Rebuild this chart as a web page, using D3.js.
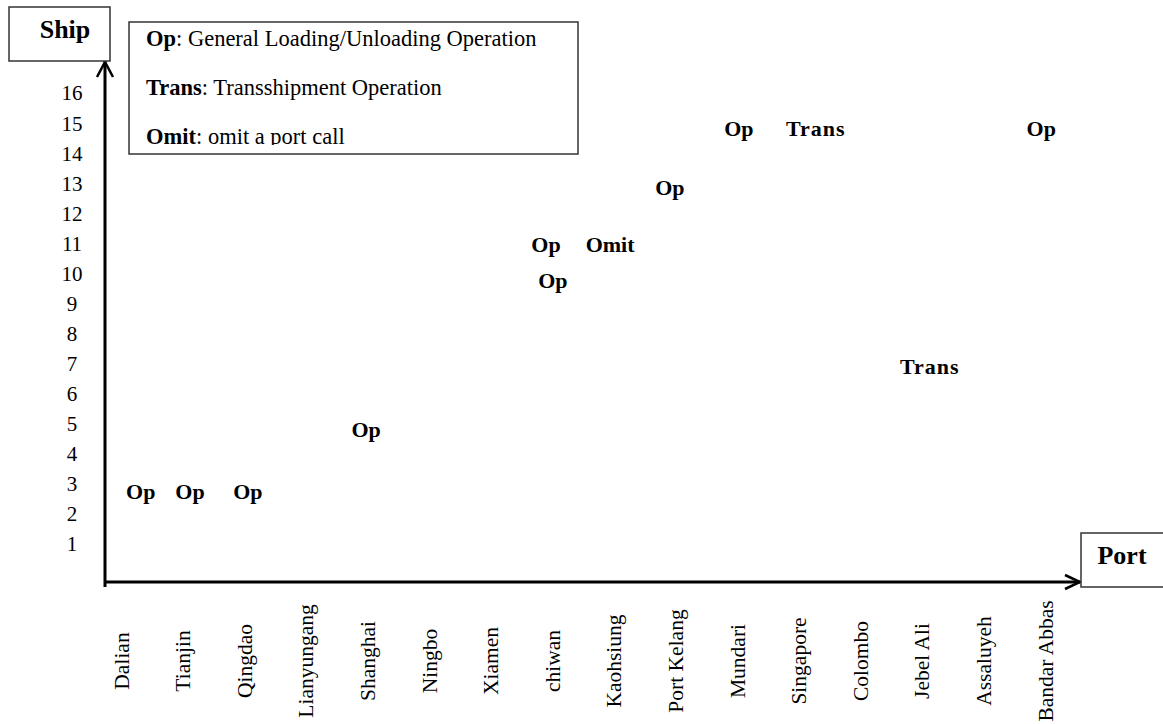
<!DOCTYPE html>
<html>
<head>
<meta charset="utf-8">
<script src="https://cdn.jsdelivr.net/npm/d3@7"></script>
<style>
  html, body { margin: 0; padding: 0; background: #fff; }
  svg { display: block; }
  text { font-family: "Liberation Serif", "Times New Roman", serif; fill: #000; }
</style>
</head>
<body>
<svg id="chart" width="1163" height="724"></svg>
<script>
// ---- data ----
const ports = ["Dalian", "Tianjin", "Qingdao", "Lianyungang", "Shanghai", "Ningbo", "Xiamen",
  "chiwan", "Kaohsiung", "Port Kelang", "Mundari", "Singapore", "Colombo", "Jebel Ali",
  "Assaluyeh", "Bandar Abbas"];
const shipTicks = [1, 2, 3, 4, 5, 6, 7, 8, 9, 10, 11, 12, 13, 14, 15, 16];
// operation marks: label, position along the port axis (port index), ship value
const markLabels = ["Op", "Op", "Op", "Op", "Op", "Op", "Omit", "Op", "Op", "Trans", "Trans", "Op"];
const markPortPos = [0.32, 1.12, 2.06, 3.98, 6.90, 7.01, 7.94, 8.91, 10.03, 11.28, 13.13, 14.94];
const markShips = [2.75, 2.75, 2.75, 4.8, 10.95, 9.75, 10.95, 12.85, 14.8, 14.8, 6.9, 14.8];
const legendKeys = ["Op", "Trans", "Omit"];
const legendDescs = [": General Loading/Unloading Operation", ": Transshipment Operation", ": omit a port call"];
const yTitle = "Ship";
const xTitle = "Port";

// ---- layout ----
const svg = d3.select("#chart");
const x = d3.scaleLinear().domain([0, ports.length - 1]).range([121, 1045]);
const y = d3.scaleLinear().domain([1, 16]).range([544, 93]);
const axisX = 105, axisY = 582;

// axes lines with open arrowheads
svg.append("line").attr("x1", axisX).attr("y1", 587).attr("x2", axisX).attr("y2", 61)
  .attr("stroke", "#000").attr("stroke-width", 3);
svg.append("path").attr("d", `M${axisX - 8},${77} L${axisX},${62} L${axisX + 8},${77}`)
  .attr("fill", "none").attr("stroke", "#000").attr("stroke-width", 2.5);
svg.append("line").attr("x1", axisX - 1).attr("y1", axisY).attr("x2", 1080).attr("y2", axisY)
  .attr("stroke", "#000").attr("stroke-width", 3);
svg.append("path").attr("d", `M${1065},${axisY - 7} L${1080},${axisY} L${1065},${axisY + 7}`)
  .attr("fill", "none").attr("stroke", "#000").attr("stroke-width", 2.5);

// y tick labels
const yAxis = svg.append("g").attr("transform", "translate(72,0)")
  .call(d3.axisLeft(y).tickValues(shipTicks).tickSize(0).tickPadding(0).tickFormat(d3.format("d")));
yAxis.select(".domain").remove();
yAxis.selectAll("text")
  .attr("x", 0).attr("dy", "0.33em")
  .attr("text-anchor", "middle")
  .style("font-family", "'Liberation Serif', serif")
  .style("font-size", "21px").attr("fill", "#000");

// x tick labels (rotated)
const xAxis = svg.append("g").attr("transform", "translate(0,661)")
  .call(d3.axisBottom(x).tickValues(d3.range(ports.length)).tickSize(0).tickPadding(0)
    .tickFormat(i => ports[i]));
xAxis.select(".domain").remove();
xAxis.selectAll("text")
  .attr("x", 0).attr("y", 0).attr("dy", "0.33em")
  .attr("text-anchor", "middle")
  .attr("transform", "rotate(-90)")
  .style("font-family", "'Liberation Serif', serif")
  .style("font-size", "21.5px").attr("fill", "#000");

// marks
const marks = markLabels.map((l, i) => ({ label: l, pos: markPortPos[i], ship: markShips[i] }));
svg.append("g").selectAll("text").data(marks).join("text")
  .attr("x", d => x(d.pos)).attr("y", d => y(d.ship)).attr("dy", "0.33em")
  .attr("text-anchor", "middle")
  .style("font-weight", "bold").style("font-size", "22px")
  .style("letter-spacing", d => d.label === "Trans" ? "1px" : "0px")
  .text(d => d.label);

// axis title boxes
svg.append("rect").attr("x", 9).attr("y", 7).attr("width", 101).attr("height", 54)
  .attr("fill", "#fff").attr("stroke", "#333").attr("stroke-width", 1.5);
svg.append("text").attr("x", 65).attr("y", 38).attr("text-anchor", "middle")
  .style("font-weight", "bold").style("font-size", "26px").text(yTitle);
svg.append("rect").attr("x", 1081).attr("y", 533).attr("width", 100).attr("height", 54)
  .attr("fill", "#fff").attr("stroke", "#333").attr("stroke-width", 1.5);
svg.append("text").attr("x", 1122).attr("y", 564).attr("text-anchor", "middle")
  .style("font-weight", "bold").style("font-size", "26px").text(xTitle);

// legend box
svg.append("rect").attr("x", 129).attr("y", 22).attr("width", 449).attr("height", 132)
  .attr("fill", "#fff").attr("stroke", "#333").attr("stroke-width", 1.5);
svg.append("defs").append("clipPath").attr("id", "legclip")
  .append("rect").attr("x", 129).attr("y", 22).attr("width", 449).attr("height", 123);
const leg = svg.append("g").attr("clip-path", "url(#legclip)");
const legRows = leg.selectAll("text").data(legendKeys).join("text")
  .attr("x", 146).attr("y", (d, i) => 46 + i * 49)
  .style("font-size", "22.5px");
legRows.append("tspan").style("font-weight", "bold").text(d => d);
legRows.append("tspan").text((d, i) => legendDescs[i]);
</script>
</body>
</html>
